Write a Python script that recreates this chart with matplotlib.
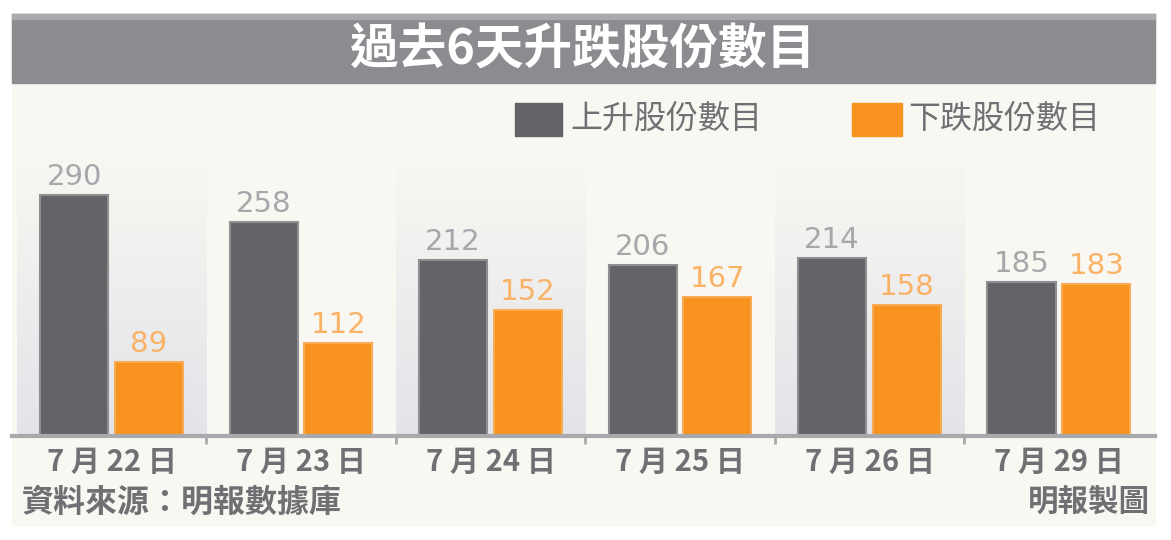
import numpy as np
import matplotlib.pyplot as plt
from matplotlib.patches import Rectangle

# 資料
dates = ["7 月 22 日", "7 月 23 日", "7 月 24 日", "7 月 25 日", "7 月 26 日", "7 月 29 日"]
upCount = [290, 258, 212, 206, 214, 185]
downCount = [89, 112, 152, 167, 158, 183]

titleText = "過去6天升跌股份數目"
upLabel = "上升股份數目"
downLabel = "下跌股份數目"
sourceText = "資料來源：明報數據庫"
creditText = "明報製圖"

plt.rcParams['font.family'] = ['Noto Sans CJK TC', 'DejaVu Sans']

W, H = 1171, 540
creamColor = '#f8f7f2'
titleBarColor = '#8b8c8f'
darkColor = '#636467'
orangeColor = '#f7931e'
textGrey = '#6f7073'

fig = plt.figure(figsize=(W / 100, H / 100), dpi=100)
fig.patch.set_facecolor('white')

# fondo crema y barra de título
fig.patches.append(Rectangle((12 / W, (H - 525) / H), 1143 / W, 511 / H,
                             transform=fig.transFigure, color=creamColor, zorder=0))
fig.patches.append(Rectangle((12 / W, (H - 83) / H), 1143 / W, 69 / H,
                             transform=fig.transFigure, color=titleBarColor, zorder=1))
fig.patches.append(Rectangle((12 / W, (H - 19) / H), 1143 / W, 5 / H,
                             transform=fig.transFigure, color='#a9aaac', zorder=1))
fig.text(583 / W, (H - 50) / H, titleText, ha='center', va='center',
         fontsize=35, fontweight='bold', color='white', zorder=2)

# leyenda
fig.patches.append(Rectangle((515 / W, (H - 136) / H), 47 / W, 33 / H,
                             transform=fig.transFigure, color=darkColor, zorder=2))
fig.text(570 / W, (H - 119) / H, upLabel, ha='left', va='center',
         fontsize=23, fontweight='medium', color=textGrey, zorder=2)
fig.patches.append(Rectangle((852 / W, (H - 136) / H), 50 / W, 33 / H,
                             transform=fig.transFigure, color=orangeColor, zorder=2))
fig.text(908 / W, (H - 119) / H, downLabel, ha='left', va='center',
         fontsize=23, fontweight='medium', color=textGrey, zorder=2)

# eje principal
ax = fig.add_axes([12 / W, (H - 436) / H, 1143 / W, 353 / H], zorder=5)
ax.set_facecolor('none')
x = np.arange(len(dates))

# columnas sombreadas (degradado)
grad = np.linspace(1, 0, 100).reshape(-1, 1)
rgba = np.zeros((100, 1, 4))
rgba[..., 0] = 0.88
rgba[..., 1] = 0.89
rgba[..., 2] = 0.91
rgba[..., 3] = grad * 0.9
for i in x[::2]:
    ax.imshow(rgba, extent=(i - 0.5, i + 0.5, 0, 340), aspect='auto',
              origin='lower', zorder=0)
ax.set_xlim(-0.525, 5.507)
ax.set_ylim(0, 425)

w = 0.36
off = 0.197
barsUp = ax.bar(x - off, upCount, w, color=darkColor, edgecolor='#8e8f92',
                linewidth=1.5, zorder=2)
barsDown = ax.bar(x + off, downCount, w, color=orangeColor, edgecolor='#f9ab55',
                  linewidth=1.5, zorder=2)

for b, v in zip(barsUp, upCount):
    ax.annotate(str(v), (b.get_x() + b.get_width() / 2, v), xytext=(0, 3),
                textcoords='offset points', ha='center', va='bottom',
                fontsize=21, color='#a5a7aa', family=['DejaVu Sans'])
for b, v in zip(barsDown, downCount):
    ax.annotate(str(v), (b.get_x() + b.get_width() / 2, v), xytext=(0, 3),
                textcoords='offset points', ha='center', va='bottom',
                fontsize=21, color='#fab267', family=['DejaVu Sans'])

for s in ['top', 'right', 'left']:
    ax.spines[s].set_visible(False)
ax.spines['bottom'].set_color('#a7a9ac')
ax.spines['bottom'].set_linewidth(3)
ax.set_yticks([])
ax.set_xticks(x)
ax.set_xticklabels(dates, fontsize=21, fontweight='bold', color=textGrey)
ax.tick_params(axis='x', which='major', length=0, pad=8)
ax.set_xticks(x[:-1] + 0.5, minor=True)
ax.tick_params(axis='x', which='minor', length=6, width=2, color='#a7a9ac')

# pie
fig.text(22 / W, (H - 503) / H, sourceText, ha='left', va='center',
         fontsize=23, fontweight='bold', color=textGrey)
fig.text(1150 / W, (H - 503) / H, creditText, ha='right', va='center',
         fontsize=22, fontweight='bold', color=textGrey)

fig.savefig('out.png', dpi=100, facecolor=fig.get_facecolor())
